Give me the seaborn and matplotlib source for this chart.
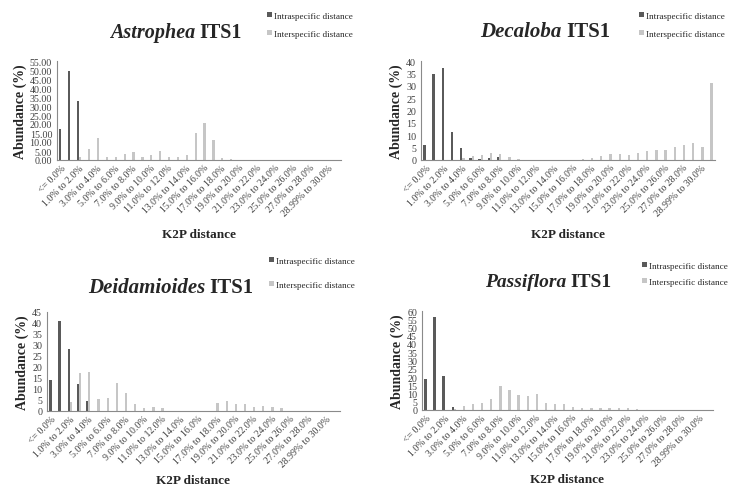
import pandas as pd
import matplotlib
matplotlib.use('Agg')
import matplotlib.pyplot as plt
import seaborn as sns

# K2P distance bins (only every other one gets a label on the axis)
bins = ['<= 0.0%', '0.0% to 1.0%', '1.0% to 2.0%', '2.0% to 3.0%', '3.0% to 4.0%',
        '4.0% to 5.0%', '5.0% to 6.0%', '6.0% to 7.0%', '7.0% to 8.0%', '8.0% to 9.0%',
        '9.0% to 10.0%', '10.0% to 11.0%', '11.0% to 12.0%', '12.0% to 13.0%',
        '13.0% to 14.0%', '14.0% to 15.0%', '15.0% to 16.0%', '16.0% to 17.0%',
        '17.0% to 18.0%', '18.0% to 19.0%', '19.0% to 20.0%', '20.0% to 21.0%',
        '21.0% to 22.0%', '22.0% to 23.0%', '23.0% to 24.0%', '24.0% to 25.0%',
        '25.0% to 26.0%', '26.0% to 27.0%', '27.0% to 28.0%', '28.0% to 28.99%',
        '28.99% to 30.0%', '> 30.0%']

series_names = ['Intraspecific distance', 'Interspecific distance']

# Abundance (%) per bin
astrophea_intra = [17.3, 49.2, 32.8, 0, 0, 0, 0, 0, 0, 0, 0, 0, 0, 0, 0, 0,
                   0, 0, 0, 0, 0, 0, 0, 0, 0, 0, 0, 0, 0, 0, 0, 0]
astrophea_inter = [0, 0, 1.5, 6.3, 12.2, 1.8, 1.5, 3.4, 4.2, 1.5, 2.9, 5.0, 1.5, 1.5, 3.0, 15.0,
                   20.5, 11.0, 1.3, 0.5, 0, 0, 0, 0, 0, 0, 0, 0, 0, 0, 0, 0]

decaloba_intra = [6.1, 34.9, 37.0, 11.5, 5.0, 0.8, 0.5, 0.9, 1.3, 0, 0, 0, 0, 0, 0, 0,
                  0, 0, 0, 0, 0, 0, 0, 0, 0, 0, 0, 0, 0, 0, 0, 0]
decaloba_inter = [0, 0, 0, 0, 0.8, 1.7, 2.1, 3.0, 2.3, 1.3, 0.4, 0, 0, 0, 0, 0,
                  0.2, 0.4, 1.0, 1.5, 2.4, 2.4, 2.0, 2.7, 3.8, 4.2, 4.2, 5.4, 6.0, 7.0, 5.4, 31.2]

deidamioides_intra = [14.0, 40.8, 28.3, 12.3, 4.7, 0, 0, 0, 0, 0, 0, 0, 0, 0, 0, 0,
                      0, 0, 0, 0, 0, 0, 0, 0, 0, 0, 0, 0, 0, 0, 0, 0]
deidamioides_inter = [0, 0, 4.0, 17.3, 17.6, 5.4, 5.8, 12.8, 8.4, 3.4, 1.3, 2.0, 1.3, 0, 0, 0,
                      0, 0, 3.6, 4.6, 3.4, 3.4, 2.0, 2.3, 1.6, 1.2, 0, 0, 0, 0, 0, 0]

passiflora_intra = [18.6, 56.3, 20.4, 2.0, 0, 0, 0, 0, 0, 0, 0, 0, 0, 0, 0, 0,
                    0, 0, 0, 0, 0, 0, 0, 0, 0, 0, 0, 0, 0, 0, 0, 0]
passiflora_inter = [0, 0, 0, 0.8, 2.6, 3.8, 4.2, 6.9, 14.3, 12.3, 9.3, 8.7, 9.7, 4.4, 3.4, 3.4,
                    1.8, 1.4, 1.5, 1.2, 1.5, 1.2, 1.0, 0.4, 0, 0, 0, 0, 0, 0, 0, 0]

genera = ['Astrophea', 'Decaloba', 'Deidamioides', 'Passiflora']
intra_values = [astrophea_intra, decaloba_intra, deidamioides_intra, passiflora_intra]
inter_values = [astrophea_inter, decaloba_inter, deidamioides_inter, passiflora_inter]
y_max = [55, 40, 45, 60]

# layout in figure pixels (729 x 489): axes box, title split point, legend anchor
W, H = 729, 489
axes_px = [(57, 62, 284, 99), (421, 62, 294, 99), (47, 313, 293, 99), (422, 312, 291, 99)]
title_px = [(195, 33), (562, 32), (205, 288), (566, 283)]
title_size = [14.5, 15, 15, 14]
legend_px = [(267, 13), (639, 13), (269, 258), (642, 263)]
legend_spacing = [1.1, 1.1, 1.75, 0.85]
xlabel_y = [-0.69, -0.69, -0.635, -0.635]

sns.set_style('white')
plt.rcParams['font.family'] = ['Liberation Serif', 'DejaVu Serif']

dark = '#5a5a5a'
light = '#c6c6c6'
spine_col = '#8a8a8a'
text_col = '#404040'

fig = plt.figure(figsize=(W / 100, H / 100), dpi=100)

for i, genus in enumerate(genera):
    x0, y0, w, h = axes_px[i]
    ax = fig.add_axes([x0 / W, 1 - (y0 + h) / H, w / W, h / H])

    df = pd.DataFrame({
        'bin': bins * 2,
        'abundance': intra_values[i] + inter_values[i],
        'type': [series_names[0]] * len(bins) + [series_names[1]] * len(bins),
    })
    sns.barplot(data=df, x='bin', y='abundance', hue='type', order=bins,
                hue_order=series_names, palette=[dark, light], width=0.5,
                saturation=1, errorbar=None, linewidth=0, ax=ax)

    # legend, Excel-like, above the plot on the right
    handles, labels = ax.get_legend_handles_labels()
    ax.get_legend().remove()
    lx, ly = legend_px[i]
    ax.legend(handles, labels, loc='upper left', bbox_to_anchor=(lx / W, 1 - ly / H),
              bbox_transform=fig.transFigure, frameon=False, fontsize=6.6,
              handlelength=0.5, handleheight=0.5, handletextpad=0.25,
              labelspacing=legend_spacing[i], borderpad=0, borderaxespad=0)

    # title: italic genus + bold ITS1
    tx, ty = title_px[i]
    fig.text(tx / W, 1 - ty / H, genus, ha='right', va='center', fontsize=title_size[i],
             fontweight='bold', fontstyle='italic')
    fig.text((tx + 4) / W, 1 - ty / H, 'ITS1', ha='left', va='center',
             fontsize=title_size[i], fontweight='bold')

    ax.set_xlim(-0.5, len(bins) - 0.5)
    ax.set_ylim(0, y_max[i])
    ax.set_yticks(range(0, y_max[i] + 1, 5))
    if genus == 'Astrophea':
        ax.set_yticklabels(['{:.2f}'.format(v) for v in range(0, y_max[i] + 1, 5)])

    ax.set_xticks(range(0, len(bins), 2))
    ax.set_xticklabels(bins[::2], rotation=45, ha='right', va='top',
                       rotation_mode='anchor')
    ax.set_xticks([k - 0.5 for k in range(len(bins) + 1)], minor=True)
    ax.tick_params(axis='x', which='major', length=0, pad=2, labelsize=7,
                   labelcolor=text_col)
    ax.tick_params(axis='x', which='minor', length=2.5, width=0.6, color=spine_col)
    ax.tick_params(axis='y', length=2.5, width=0.6, color=spine_col, pad=1,
                   labelsize=7.2, labelcolor=text_col)

    for side in ['top', 'right']:
        ax.spines[side].set_visible(False)
    for side in ['left', 'bottom']:
        ax.spines[side].set_color(spine_col)
        ax.spines[side].set_linewidth(0.8)

    ax.set_xlabel('K2P distance', fontsize=9.5, fontweight='bold')
    ax.xaxis.set_label_coords(0.5, xlabel_y[i])
    ax.set_ylabel('Abundance (%)', fontsize=10, fontweight='bold', labelpad=2)

fig.savefig('out.png', dpi=100)
